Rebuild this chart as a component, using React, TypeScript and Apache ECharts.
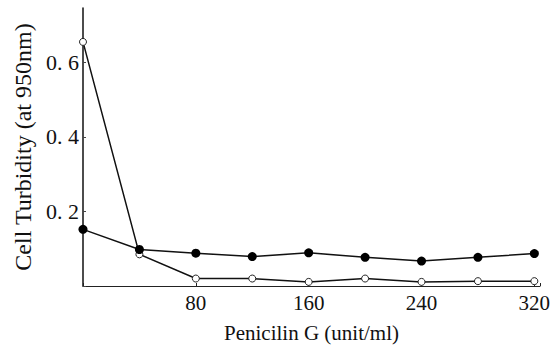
import React, { useEffect, useRef } from "react";
import * as echarts from "echarts";

const doses = [0, 40, 80, 120, 160, 200, 240, 280, 320];
const filledSeries = [0.152, 0.098, 0.088, 0.079, 0.089, 0.077, 0.067, 0.077, 0.087];
const openSeries = [0.655, 0.085, 0.02, 0.02, 0.011, 0.02, 0.011, 0.013, 0.013];
const yTickLabels = [0.2, 0.4, 0.6];
const xTickLabels = [80, 160, 240, 320];

export default function App() {
  const ref = useRef<HTMLDivElement>(null);
  useEffect(() => {
    if (!ref.current) return;
    const chart = echarts.init(ref.current, undefined, { renderer: "svg" });
    const font = "'Liberation Serif', 'DejaVu Serif', serif";
    chart.setOption({
      animation: false,
      backgroundColor: "#ffffff",
      grid: { left: 83, top: 8, right: 19, bottom: 62 },
      xAxis: {
        type: "value",
        min: 0,
        max: 324,
        interval: 80,
        name: "Penicilin G (unit/ml)",
        nameLocation: "middle",
        nameGap: 36,
        nameTextStyle: { color: "#111", fontFamily: font, fontSize: 21 },
        axisLine: { show: true, lineStyle: { color: "#222", width: 1 } },
        axisTick: { show: true, inside: true, length: 3, lineStyle: { color: "#222" } },
        splitLine: { show: false },
        axisLabel: {
          color: "#111",
          fontFamily: font,
          fontSize: 21,
          margin: 6,
          formatter: (v: number) => (xTickLabels.includes(v) ? String(v) : ""),
        },
      },
      yAxis: {
        type: "value",
        min: 0,
        max: 0.746,
        interval: 0.2,
        name: "Cell Turbidity (at 950nm)",
        nameLocation: "middle",
        nameGap: 48,
        nameTextStyle: { color: "#111", fontFamily: font, fontSize: 24 },
        axisLine: { show: true, lineStyle: { color: "#111", width: 1.5 } },
        axisTick: { show: true, inside: true, length: 3, lineStyle: { color: "#444" } },
        splitLine: { show: false },
        axisLabel: {
          color: "#111",
          fontFamily: font,
          fontSize: 22,
          margin: 4,
          showMaxLabel: false,
          formatter: (v: number) => {
            const r = Math.round(v * 10) / 10;
            return yTickLabels.some((t) => Math.abs(t - v) < 1e-6) ? r.toFixed(1).replace(".", ". ") : "";
          },
        },
      },
      series: [
        {
          type: "line",
          data: doses.map((d, i) => [d, openSeries[i]]),
          symbol: "circle",
          symbolSize: 7,
          itemStyle: { color: "#ffffff", borderColor: "#222", borderWidth: 1 },
          lineStyle: { color: "#111", width: 1.5 },
          z: 2,
        },
        {
          type: "line",
          data: doses.map((d, i) => [d, filledSeries[i]]),
          symbol: "circle",
          symbolSize: 9,
          itemStyle: { color: "#000", borderColor: "#000", borderWidth: 0 },
          lineStyle: { color: "#111", width: 1.5 },
          z: 3,
        },
      ],
    });
    return () => chart.dispose();
  }, []);
  return (
    <div
      ref={ref}
      style={{ position: "absolute", left: 0, top: 0, width: 559, height: 348 }}
    />
  );
}
